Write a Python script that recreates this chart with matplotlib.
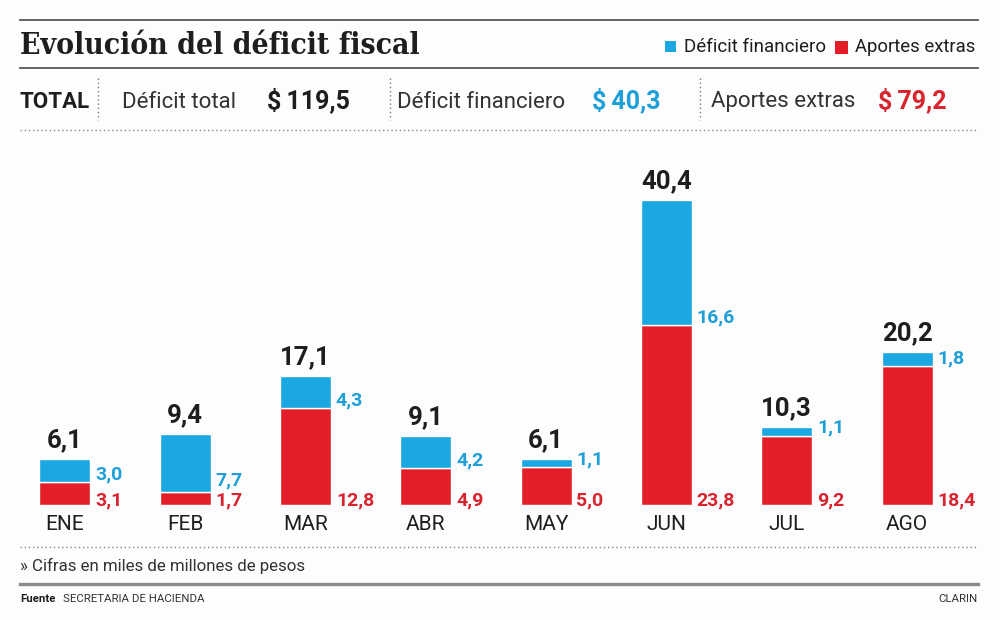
import matplotlib.pyplot as plt
from matplotlib.lines import Line2D
from matplotlib.patches import Rectangle

meses = ['ENE', 'FEB', 'MAR', 'ABR', 'MAY', 'JUN', 'JUL', 'AGO']
aportes = [3.1, 1.7, 12.8, 4.9, 5.0, 23.8, 9.2, 18.4]
financiero = [3.0, 7.7, 4.3, 4.2, 1.1, 16.6, 1.1, 1.8]
totales = [6.1, 9.4, 17.1, 9.1, 6.1, 40.4, 10.3, 20.2]

BLUE = '#1ba7e1'
RED = '#e31e29'
BLUE_TXT = '#1f9fd8'
RED_TXT = '#d9232e'
DARK = '#1e1e1e'

W, H = 1000, 620
plt.rcParams['font.family'] = ['Roboto', 'DejaVu Sans']

fig = plt.figure(figsize=(W / 100, H / 100), dpi=100)
fig.patch.set_facecolor('#fdfdfd')


def fx(x):
    return x / W


def fy(y):
    return 1 - y / H


def hline(y, x0=20, x1=978, **kw):
    fig.add_artist(Line2D([fx(x0), fx(x1)], [fy(y), fy(y)], transform=fig.transFigure, **kw))


def vdots(x, y0, y1):
    fig.add_artist(Line2D([fx(x), fx(x)], [fy(y0), fy(y1)], transform=fig.transFigure,
                          color='#777777', lw=1, ls=(0, (1, 2))))


# header lines
hline(20, color='#555555', lw=1.3)
hline(68, color='#555555', lw=1.3)
hline(130, color='#888888', lw=1, ls=(0, (1, 2)))
hline(547, color='#888888', lw=1, ls=(0, (1, 2)))
hline(584, color='#8a8a8a', lw=2.4)

fig.text(fx(20), fy(45), 'Evolución del déficit fiscal', family='DejaVu Serif',
         stretch='condensed', weight='bold', fontsize=21.5, color=DARK, va='center', ha='left')

# legend
fig.add_artist(Rectangle((fx(665), fy(52)), fx(11), 11 / H, transform=fig.transFigure,
                         color=BLUE, lw=0))
fig.text(fx(684), fy(47), 'Déficit financiero', fontsize=13.5, color=DARK, va='center')
fig.add_artist(Rectangle((fx(835), fy(54)), fx(13), 13 / H, transform=fig.transFigure,
                         color=RED, lw=0))
fig.text(fx(855), fy(47), 'Aportes extras', fontsize=13.3, color=DARK, va='center')

# totals row
fig.text(fx(20), fy(102), 'TOTAL', fontsize=16, weight='bold', color=DARK, va='center')
vdots(98, 78, 120)
fig.text(fx(122), fy(102), 'Déficit total', fontsize=16, color='#333333', va='center')
fig.text(fx(267), fy(100), '$\u2009119,5', fontsize=18, weight='bold', color=DARK, va='center')
vdots(390, 78, 120)
fig.text(fx(397), fy(102), 'Déficit financiero', fontsize=16, color='#333333', va='center')
fig.text(fx(592), fy(100), '$\u200940,3', fontsize=18, weight='bold', color=BLUE_TXT, va='center')
vdots(700, 78, 120)
fig.text(fx(711), fy(102), 'Aportes extras', fontsize=16, color='#333333', va='center')
fig.text(fx(878), fy(100), '$\u200979,2', fontsize=18, weight='bold', color=RED_TXT, va='center')

# bars
base_y, top_y = 505, 150
ax = fig.add_axes([fx(20), fy(base_y), fx(958), (base_y - top_y) / H])
ax.set_facecolor('none')
px_per_unit = 7.55
ax.set_ylim(0, (base_y - top_y) / px_per_unit)
ax.set_xlim(-0.374, 7.59)
ax.axis('off')

x = list(range(len(meses)))
w = 0.424
ax.bar(x, aportes, width=w, color=RED, edgecolor='white', lw=1)
ax.bar(x, financiero, width=w, bottom=aportes, color=BLUE, edgecolor='white', lw=1)

for i, m in enumerate(meses):
    ax.text(i + w / 2 + 0.04, 0.0, f'{aportes[i]:.1f}'.replace('.', ','), color=RED_TXT,
            fontsize=14, weight='bold', ha='left', va='baseline')
    ax.text(i + w / 2 + 0.04, max(aportes[i], 2.3) + 0.35, f'{financiero[i]:.1f}'.replace('.', ','),
            color=BLUE_TXT, fontsize=14, weight='bold', ha='left', va='baseline')
    ax.text(i, totales[i] + 0.9, f'{totales[i]:.1f}'.replace('.', ','), color=DARK,
            fontsize=18.5, weight='bold', ha='center', va='bottom')
    ax.text(i, -2.6, m, color=DARK, fontsize=15, ha='center', va='center', clip_on=False)

fig.text(fx(20), fy(566), '» Cifras en miles de millones de pesos', fontsize=12.2,
         color='#333333', va='center')
fig.text(fx(20), fy(599), 'Fuente', fontsize=8.2, weight='bold', color=DARK, va='center')
fig.text(fx(63), fy(599), 'SECRETARIA DE HACIENDA', fontsize=8.2, color='#333333', va='center')
fig.text(fx(978), fy(599), 'CLARIN', fontsize=8.2, color='#333333', va='center', ha='right')

fig.savefig('out.png', dpi=100, facecolor=fig.get_facecolor())
